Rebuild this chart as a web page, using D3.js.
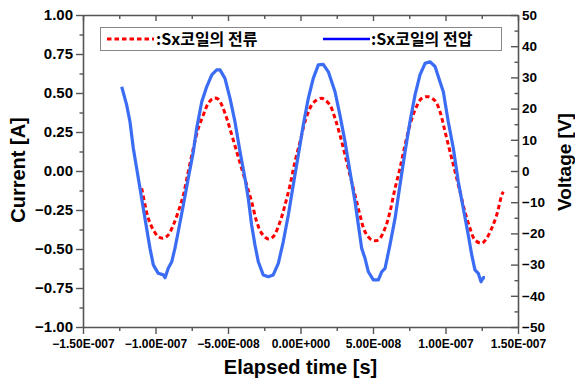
<!DOCTYPE html>
<html>
<head>
<meta charset="utf-8">
<script src="https://cdn.jsdelivr.net/npm/d3@7"></script>
<style>
  body { margin: 0; background: #fff; }
  svg text { font-family: "Liberation Sans", Arial, sans-serif; font-weight: bold; fill: #000; }
</style>
</head>
<body>
<div id="chart"></div>
<script>
// elapsed time in ns, current in A
const timeI = [-109.5, -107.2, -105.0, -101.5, -98.1, -94.6, -91.2, -87.7, -84.3, -80.8, -77.4, -73.9,
  -70.5, -67.0, -63.6, -60.1, -56.7, -54.3, -50.9, -47.4, -44.0, -40.6, -37.1, -33.7, -30.2, -26.8,
  -22.2, -18.8, -14.1, -10.7, -7.2, -3.8, -0.3, 3.1, 7.7, 11.2, 14.6, 16.9, 20.3, 23.8, 27.2, 30.7,
  34.1, 37.6, 41.0, 44.5, 49.1, 53.7, 58.3, 61.7, 65.2, 68.6, 72.1, 75.5, 79.0, 83.6, 88.1, 92.8,
  96.2, 99.7, 103.1, 106.6, 110.0, 113.4, 116.9, 120.3, 125.0, 128.4, 131.9, 135.3, 138.8, 139.9];
const current = [-0.111, -0.218, -0.303, -0.378, -0.421, -0.431, -0.410, -0.346, -0.261, -0.154, -0.004, 0.146,
  0.274, 0.359, 0.434, 0.466, 0.460, 0.423, 0.338, 0.231, 0.124, 0.017, -0.090, -0.197, -0.325, -0.399,
  -0.436, -0.421, -0.325, -0.218, -0.090, 0.060, 0.188, 0.316, 0.423, 0.455, 0.466, 0.455, 0.423, 0.338, 0.231, 0.103,
  -0.026, -0.154, -0.282, -0.389, -0.442, -0.442, -0.367, -0.261, -0.111, 0.017, 0.167, 0.295, 0.391, 0.466, 0.476, 0.450,
  0.380, 0.252, 0.124, -0.004, -0.133, -0.261, -0.367, -0.442, -0.463, -0.431, -0.367, -0.282, -0.154, -0.133];

// elapsed time in ns, voltage in V
const timeV = [-123.3, -119.9, -117.6, -115.3, -113.0, -110.7, -108.4, -106.1, -103.8, -101.5, -98.1, -94.6,
  -93.4, -91.2, -88.8, -86.6, -84.3, -80.8, -77.4, -73.9, -71.6, -68.1, -64.7, -61.2, -57.8, -55.5,
  -52.1, -48.6, -45.2, -41.7, -38.3, -36.0, -33.7, -31.4, -29.1, -25.7, -22.2, -18.8, -15.3, -11.9,
  -8.4, -5.0, -1.5, 1.9, 5.4, 8.8, 12.3, 15.7, 19.2, 23.8, 27.2, 30.7, 34.1, 37.6, 39.9, 42.2,
  44.5, 46.8, 50.2, 53.7, 56.0, 58.3, 61.7, 65.2, 68.6, 72.1, 75.5, 79.0, 82.4, 85.9, 89.3, 92.8,
  96.2, 98.5, 101.9, 105.4, 108.8, 112.3, 115.7, 118.1, 120.3, 122.6, 124.5, 126.1, 127.2];
const voltage = [27.0, 21.2, 15.8, 7.3, 0.9, -5.5, -12.0, -18.4, -24.8, -30.1, -32.8, -33.3,
  -34.2, -31.2, -29.1, -24.8, -19.4, -10.9, -2.3, 6.2, 13.7, 22.2, 27.0, 30.8, 32.4, 32.4,
  29.7, 23.3, 15.8, 6.2, -2.3, -8.8, -17.3, -23.7, -29.1, -33.3, -33.9, -33.3, -29.6, -22.7,
  -14.1, -4.5, 5.1, 14.7, 23.3, 29.7, 34.0, 34.2, 31.8, 25.4, 17.9, 9.4, -0.2, -9.8, -17.3, -24.8,
  -28.0, -32.3, -34.9, -34.9, -32.3, -31.2, -23.7, -15.2, -4.5, 6.2, 15.8, 24.4, 30.8, 34.5, 35.0, 33.5,
  28.6, 25.4, 15.8, 7.3, -3.4, -12.0, -20.5, -26.9, -31.7, -32.8, -35.5, -34.2, -34.2];

const xTicks = [-150, -100, -50, 0, 50, 100, 150];
const xMinor = [-125, -75, -25, 25, 75, 125];
const yTicks = [-1, -0.75, -0.5, -0.25, 0, 0.25, 0.5, 0.75, 1];
const yMinor = [-0.875, -0.625, -0.375, -0.125, 0.125, 0.375, 0.625, 0.875];
const y2Ticks = [-50, -40, -30, -20, -10, 0, 10, 20, 30, 40, 50];
const y2Minor = [-45, -35, -25, -15, -5, 5, 15, 25, 35, 45];
const seriesNames = [":Sx코일의 전류", ":Sx코일의 전압"];

const width = 575;
const height = 380;
const margin = { top: 15, right: 57, bottom: 53, left: 83 };
const axisColor = "#555";

const svg = d3.select("#chart")
  .append("svg")
  .attr("width", width)
  .attr("height", height);

const x = d3.scaleLinear().domain([-150, 150]).range([margin.left, width - margin.right]);
const y = d3.scaleLinear().domain([-1, 1]).range([height - margin.bottom, margin.top]);
const y2 = d3.scaleLinear().domain([-50, 50]).range([height - margin.bottom, margin.top]);

const minus = s => s.replace("-", "\u2212");
function sciFmt(ns) {
  if (ns === 0) return "0.00E+000";
  const parts = (ns * 1e-9).toExponential(2).split("e");
  const e = +parts[1];
  return minus(parts[0]) + "E" + (e < 0 ? "-" : "+") + String(Math.abs(e)).padStart(3, "0");
}

function styleAxis(g) {
  g.select(".domain").attr("stroke", axisColor).attr("stroke-width", 1.6);
  g.selectAll(".tick line").attr("stroke", axisColor).attr("stroke-width", 1.4);
}

// bottom axis
const xAxisG = svg.append("g")
  .attr("transform", `translate(0,${y.range()[0]})`)
  .call(d3.axisBottom(x).tickValues(xTicks).tickSize(7).tickSizeOuter(0).tickFormat(sciFmt))
  .call(styleAxis);
xAxisG.selectAll("text").attr("font-size", 12).attr("dy", "0.95em").attr("fill", "#000");
svg.append("g")
  .attr("transform", `translate(0,${y.range()[0]})`)
  .call(d3.axisBottom(x).tickValues(xMinor).tickSize(4).tickFormat(""))
  .call(styleAxis)
  .select(".domain").remove();

// top axis, ticks inward
svg.append("g")
  .attr("transform", `translate(0,${margin.top})`)
  .call(d3.axisBottom(x).tickValues(xTicks).tickSize(6).tickSizeOuter(0).tickFormat(""))
  .call(styleAxis);
svg.append("g")
  .attr("transform", `translate(0,${margin.top})`)
  .call(d3.axisBottom(x).tickValues(xMinor).tickSize(4).tickFormat(""))
  .call(styleAxis)
  .select(".domain").remove();

// left axis
const yAxisG = svg.append("g")
  .attr("transform", `translate(${margin.left},0)`)
  .call(d3.axisLeft(y).tickValues(yTicks).tickSize(7).tickSizeOuter(0).tickPadding(3)
    .tickFormat(d => minus(d3.format(".2f")(d))))
  .call(styleAxis);
yAxisG.selectAll("text").attr("font-size", 15).attr("fill", "#000");
svg.append("g")
  .attr("transform", `translate(${margin.left},0)`)
  .call(d3.axisLeft(y).tickValues(yMinor).tickSize(3.5).tickFormat(""))
  .call(styleAxis)
  .select(".domain").remove();

// right axis, ticks inward
svg.append("g")
  .attr("transform", `translate(${width - margin.right},0)`)
  .call(d3.axisLeft(y2).tickValues(y2Ticks).tickSize(7).tickSizeOuter(0).tickFormat(""))
  .call(styleAxis);
svg.append("g")
  .attr("transform", `translate(${width - margin.right},0)`)
  .call(d3.axisLeft(y2).tickValues(y2Minor).tickSize(3.5).tickFormat(""))
  .call(styleAxis)
  .select(".domain").remove();
svg.append("g")
  .selectAll("text")
  .data(y2Ticks)
  .join("text")
  .attr("x", width - margin.right + 4)
  .attr("y", d => y2(d))
  .attr("dy", "0.36em")
  .attr("font-size", 13.5)
  .text(d => minus(String(d)));

// curves
const lineI = d3.line()
  .x(d => x(d[0]))
  .y(d => y(d[1]))
  .curve(d3.curveCatmullRom);
const lineV = d3.line()
  .x(d => x(d[0]))
  .y(d => y2(d[1]));

svg.append("path")
  .datum(d3.zip(timeI, current))
  .attr("fill", "none")
  .attr("stroke", "#ff0000")
  .attr("stroke-width", 3)
  .attr("stroke-dasharray", "4.5,3")
  .attr("d", lineI);

svg.append("path")
  .datum(d3.zip(timeV, voltage))
  .attr("fill", "none")
  .attr("stroke", "#3a6cf4")
  .attr("stroke-width", 3.2)
  .attr("stroke-linejoin", "round")
  .attr("d", lineV);

// legend
const legend = svg.append("g");
legend.append("rect")
  .attr("x", 100.5).attr("y", 27.5)
  .attr("width", 401).attr("height", 23)
  .attr("fill", "#fff")
  .attr("stroke", "#888")
  .attr("stroke-width", 1);
legend.append("line")
  .attr("x1", 107).attr("x2", 154).attr("y1", 39).attr("y2", 39)
  .attr("stroke", "#ff0000").attr("stroke-width", 3).attr("stroke-dasharray", "4.5,3");
legend.append("line")
  .attr("x1", 323).attr("x2", 370).attr("y1", 39).attr("y2", 39)
  .attr("stroke", "#0000ff").attr("stroke-width", 2.5);
legend.selectAll("text.lab")
  .data(seriesNames)
  .join("text")
  .attr("class", "lab")
  .attr("x", (d, i) => i === 0 ? 156 : 371)
  .attr("y", 45)
  .attr("font-size", 16)
  .style("font-family", "'Noto Sans CJK KR', sans-serif")
  .text(d => d);

// axis titles
svg.append("text")
  .attr("x", (margin.left + width - margin.right) / 2)
  .attr("y", 374)
  .attr("text-anchor", "middle")
  .attr("font-size", 20)
  .text("Elapsed time [s]");
svg.append("text")
  .attr("transform", "translate(25,170) rotate(-90)")
  .attr("text-anchor", "middle")
  .attr("font-size", 20)
  .text("Current [A]");
svg.append("text")
  .attr("transform", "translate(571,162) rotate(-90)")
  .attr("text-anchor", "middle")
  .attr("font-size", 19)
  .text("Voltage [V]");
</script>
</body>
</html>
